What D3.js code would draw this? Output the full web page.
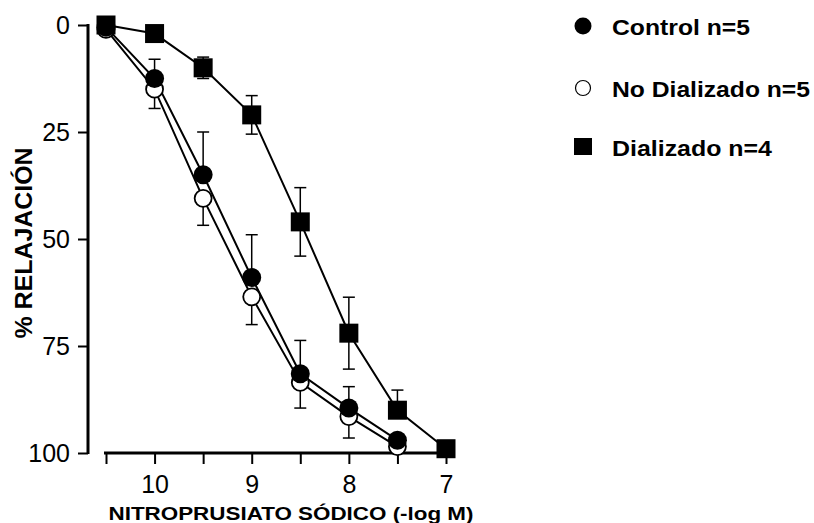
<!DOCTYPE html>
<html>
<head>
<meta charset="utf-8">
<script src="https://cdn.jsdelivr.net/npm/d3@7"></script>
<style>
  body { margin: 0; background: #fff; }
  svg, svg text { font-family: Arial, "Liberation Sans", sans-serif; }
</style>
</head>
<body>
<div id="chart"></div>
<script>
var width = 814;
var height = 523;

// -log M concentrations
var doses = [10.5, 10, 9.5, 9, 8.5, 8, 7.5, 7];
var xTicks = [10.5, 10, 9.5, 9, 8.5, 8, 7.5, 7];
var yTicks = [0, 25, 50, 75, 100];

var control = [0.5, 12.5, 35, 59, 81.5, 89.5, 97];
var controlErr = [0, 4.5, 10, 10, 7.8, 5, 0.5];          // drawn upwards

var noDializado = [1, 15, 40.5, 63.5, 83.5, 91.5, 98.5];
var noDializadoErr = [0, 4.5, 6.3, 6.5, 6, 5, 0.5];      // drawn downwards

var dializado = [0, 2, 10, 21, 46, 72, 90, 99];
var dializadoErrUp = [0, 1, 2.5, 4.5, 8, 8.4, 4.7, 0];
var dializadoErrDown = [0, 1, 2.5, 4.5, 8, 8.4, 0, 0];

var legendLabels = ["Control n=5", "No Dializado n=5", "Dializado n=4"];

var x = d3.scaleLinear().domain([10.5, 7]).range([106, 446]);
var y = d3.scaleLinear().domain([0, 100]).range([25, 453]);

var svg = d3.select("#chart").append("svg")
  .attr("width", width)
  .attr("height", height);

// y axis
var yAxis = svg.append("g")
  .attr("transform", "translate(88,0)")
  .call(d3.axisLeft(y).tickValues(yTicks).tickSize(10).tickSizeOuter(0).tickPadding(8));
yAxis.select(".domain").remove();
yAxis.attr("font-size", null).attr("font-family", null);
yAxis.selectAll(".tick line").attr("stroke", "#000").attr("stroke-width", 2);
yAxis.selectAll(".tick text").style("font-size", "25px").attr("fill", "#000");
yAxis.append("line")
  .attr("x1", 0).attr("x2", 0)
  .attr("y1", y(0) - 1).attr("y2", y(100) + 1)
  .attr("stroke", "#000").attr("stroke-width", 3);

// x axis
var xAxis = svg.append("g")
  .attr("transform", "translate(0,453)")
  .call(d3.axisBottom(x).tickValues(xTicks).tickSize(11).tickSizeOuter(0).tickPadding(11)
    .tickFormat(d => Number.isInteger(d) ? d : ""));
xAxis.select(".domain").remove();
xAxis.attr("font-size", null).attr("font-family", null);
xAxis.selectAll(".tick line").attr("stroke", "#000").attr("stroke-width", 2);
xAxis.selectAll(".tick text").style("font-size", "25px").attr("fill", "#000");
xAxis.append("line")
  .attr("x1", x(10.5) - 2).attr("x2", x(7) + 9)
  .attr("y1", 0).attr("y2", 0)
  .attr("stroke", "#000").attr("stroke-width", 3);

// axis titles
svg.append("text")
  .attr("x", 291)
  .attr("y", 520)
  .attr("text-anchor", "middle")
  .style("font-size", "19px")
  .attr("font-weight", "bold")
  .attr("textLength", 365)
  .attr("lengthAdjust", "spacingAndGlyphs")
  .text("NITROPRUSIATO SÓDICO (-log M)");

svg.append("text")
  .attr("transform", "translate(32,243) rotate(-90)")
  .attr("text-anchor", "middle")
  .style("font-size", "23px")
  .attr("font-weight", "bold")
  .attr("textLength", 191)
  .attr("lengthAdjust", "spacingAndGlyphs")
  .text("% RELAJACIÓN");

var line = d3.line().x((d, i) => x(doses[i])).y(d => y(d));

function errorBars(values, lo, hi) {
  var g = svg.append("g").attr("stroke", "#000").attr("stroke-width", 1.5);
  values.forEach((v, i) => {
    var cx = x(doses[i]);
    var top = y(v - hi[i]);
    var bot = y(v + lo[i]);
    if (hi[i] > 0) {
      g.append("line").attr("x1", cx).attr("x2", cx).attr("y1", y(v)).attr("y2", top);
      g.append("line").attr("x1", cx - 6).attr("x2", cx + 6).attr("y1", top).attr("y2", top);
    }
    if (lo[i] > 0) {
      g.append("line").attr("x1", cx).attr("x2", cx).attr("y1", y(v)).attr("y2", bot);
      g.append("line").attr("x1", cx - 6).attr("x2", cx + 6).attr("y1", bot).attr("y2", bot);
    }
  });
}

var zeros = doses.map(() => 0);

// error bars first, lines, then markers
errorBars(noDializado, noDializadoErr, zeros);
errorBars(control, zeros, controlErr);
errorBars(dializado, dializadoErrDown, dializadoErrUp);

[noDializado, control, dializado].forEach(s => {
  svg.append("path")
    .datum(s)
    .attr("fill", "none")
    .attr("stroke", "#000")
    .attr("stroke-width", 2)
    .attr("d", line);
});

svg.append("g").selectAll("circle")
  .data(noDializado)
  .join("circle")
  .attr("cx", (d, i) => x(doses[i]))
  .attr("cy", d => y(d))
  .attr("r", 8.5)
  .attr("fill", "#fff")
  .attr("stroke", "#000")
  .attr("stroke-width", 1.8);

svg.append("g").selectAll("circle")
  .data(control)
  .join("circle")
  .attr("cx", (d, i) => x(doses[i]))
  .attr("cy", d => y(d))
  .attr("r", 9.5)
  .attr("fill", "#000");

svg.append("g").selectAll("rect")
  .data(dializado)
  .join("rect")
  .attr("x", (d, i) => x(doses[i]) - 9.5)
  .attr("y", d => y(d) - 9.5)
  .attr("width", 19)
  .attr("height", 19)
  .attr("fill", "#000");

// legend
var legendY = [26, 88, 147];
var legendW = [138, 198, 160];
var legend = svg.append("g");

legend.append("circle").attr("cx", 583).attr("cy", legendY[0]).attr("r", 8.5).attr("fill", "#000");
legend.append("circle").attr("cx", 583).attr("cy", legendY[1]).attr("r", 7.5)
  .attr("fill", "#fff").attr("stroke", "#000").attr("stroke-width", 1.2);
legend.append("rect").attr("x", 574).attr("y", legendY[2] - 9).attr("width", 18).attr("height", 17).attr("fill", "#000");

legendLabels.forEach((t, i) => {
  legend.append("text")
    .attr("x", 612)
    .attr("y", legendY[i] + 1)
    .attr("dominant-baseline", "central")
    .style("font-size", "22px")
    .attr("font-weight", "bold")
    .attr("textLength", legendW[i])
    .attr("lengthAdjust", "spacingAndGlyphs")
    .text(t);
});
</script>
</body>
</html>
